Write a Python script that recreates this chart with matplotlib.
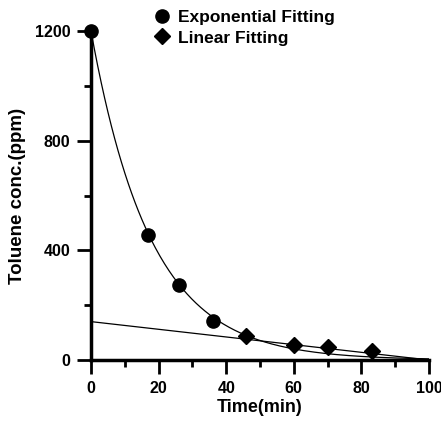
import numpy as np
import matplotlib.pyplot as plt
from matplotlib.lines import Line2D

# measured points
exp_time = [0, 17, 26, 36]
exp_conc = [1200, 455, 275, 142]
lin_time = [46, 60, 70, 83]
lin_conc = [86, 53, 49, 34]

# fit coefficients as drawn in the figure
exp_a, exp_k = 1200, 0.0565
lin_b, lin_m = 140, -1.4

x_ticks = [0, 20, 40, 60, 80, 100]
y_ticks = [0, 400, 800, 1200]

plt.rcParams['font.family'] = ['Liberation Sans', 'DejaVu Sans']
plt.rcParams['font.weight'] = 'bold'

fig = plt.figure(figsize=(4.41, 4.22), dpi=100)
ax = fig.add_axes([91 / 441, 1 - 360 / 422, (429 - 91) / 441, (360 - 31) / 422])

t = np.linspace(0, 100, 300)
ax.plot(t, exp_a * np.exp(-exp_k * t), color='black', lw=0.9)
ax.plot(t, lin_b + lin_m * t, color='black', lw=0.9)

ax.plot(exp_time, exp_conc, 'o', color='black', ms=9.5, clip_on=False, zorder=5)
ax.plot(lin_time, lin_conc, 'D', color='black', ms=8.5, clip_on=False, zorder=5)

ax.set_xlim(0, 100)
ax.set_ylim(0, 1200)
ax.set_xticks(x_ticks)
ax.set_yticks(y_ticks)
ax.set_xticks([10, 30, 50, 70, 90], minor=True)
ax.set_yticks([200, 600, 1000], minor=True)
ax.tick_params(which='major', direction='out', length=10, width=2, labelsize=11.5, pad=5)
ax.tick_params(which='minor', direction='out', length=5, width=2)
for lab in ax.get_xticklabels() + ax.get_yticklabels():
    lab.set_fontweight('bold')

for s in ['top', 'right']:
    ax.spines[s].set_visible(False)
for s in ['left', 'bottom']:
    ax.spines[s].set_linewidth(2.5)

ax.set_xlabel('Time(min)', fontsize=13, fontweight='bold', labelpad=2)
ax.set_ylabel('Toluene conc.(ppm)', fontsize=13.5, fontweight='bold', labelpad=6)

handles = [Line2D([], [], ls='none', marker='o', color='black', ms=9.5),
           Line2D([], [], ls='none', marker='D', color='black', ms=8.5)]
fig.legend(handles, ['Exponential Fitting', 'Linear Fitting'], loc='upper left',
           bbox_to_anchor=(152 / 441, 1 - 10 / 422), frameon=False,
           prop={'weight': 'bold', 'size': 12.5}, handletextpad=0.3,
           labelspacing=0.3, handlelength=1.2, borderpad=0.0, borderaxespad=0)

fig.savefig('out.png', dpi=100)
